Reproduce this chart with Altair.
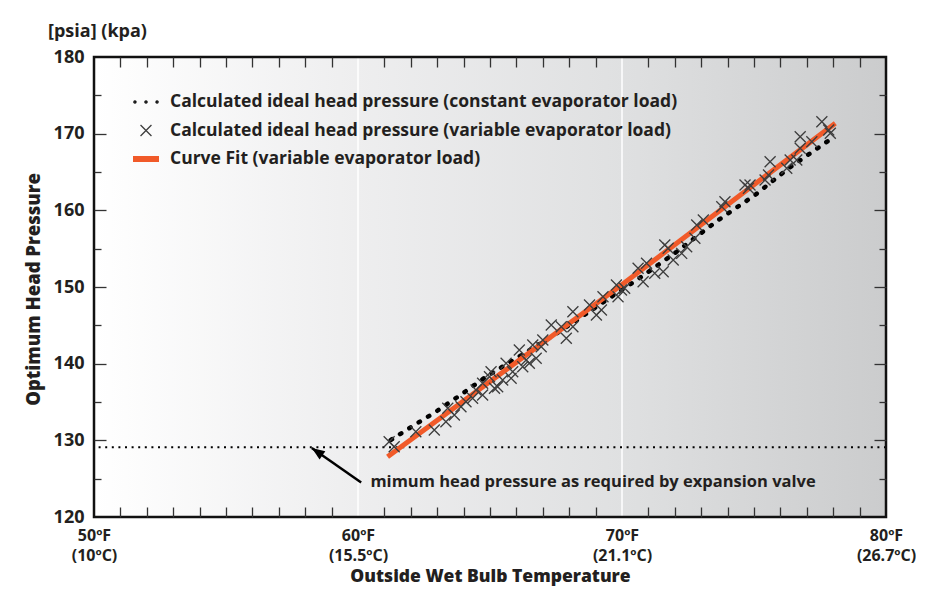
import math
import altair as alt
import pandas as pd

# ---------------- data ----------------
X_DOMAIN = [50, 80]
Y_DOMAIN = [120, 180]

X_LABEL_VALUES = [50, 60, 70, 80]
X_LABELS_F = ["50ºF", "60ºF", "70ºF", "80ºF"]
X_LABELS_C = ["(10ºC)", "(15.5ºC)", "(21.1ºC)", "(26.7ºC)"]
X_MINOR_TICKS = [51, 52, 53, 54, 55, 56, 57, 58, 59,
                 61, 62, 63, 64, 65, 66, 67, 68, 69,
                 71, 72, 73, 74, 75, 76, 77, 78, 79]
Y_LABEL_VALUES = [120, 130, 140, 150, 160, 170, 180]
Y_MAJOR_TICKS = [130, 140, 150, 160, 170]
Y_MINOR_TICKS = [125, 135, 145, 155, 165, 175]
GRID_X = [60, 70]

S1 = "Calculated ideal head pressure (constant evaporator load)"
S2 = "Calculated ideal head pressure (variable evaporator load)"
S3 = "Curve Fit (variable evaporator load)"

const_x = [61.24, 61.94, 62.95, 63.97, 64.85, 65.99, 67.38, 68.39, 69.41,
           70.74, 72.07, 73.65, 75.04, 76.31, 76.94, 77.95]
const_y = [130.04, 131.57, 133.73, 136.13, 138.30, 140.70, 143.61, 145.92,
           148.30, 151.34, 154.60, 158.74, 162.00, 165.48, 166.99, 169.39]

fit_x = [61.12, 69.98, 78.08]
fit_y = [127.86, 150.26, 171.35]

var_x = [61.18, 61.37, 62.19, 62.89, 63.33, 63.40, 63.65, 63.90, 64.09, 64.34,
         64.47, 64.72, 64.72, 64.98, 65.04, 65.17, 65.29, 65.48, 65.61, 65.80,
         65.86, 66.11, 66.24, 66.37, 66.49, 66.62, 66.75, 67.00, 66.94, 67.32,
         67.70, 67.89, 68.14, 68.14, 68.77, 69.03, 69.22, 69.28, 69.79, 69.85,
         69.98, 70.10, 70.61, 70.80, 70.93, 71.24, 71.56, 71.62, 71.75, 71.94,
         72.26, 72.45, 72.76, 72.83, 73.08, 73.78, 73.90, 74.66, 74.85, 74.79,
         75.42, 75.55, 75.61, 76.24, 76.37, 76.62, 76.75, 76.75, 77.19, 77.57,
         77.83, 77.89]
var_y = [129.82, 129.17, 131.13, 131.35, 132.43, 134.18, 133.30, 134.39, 135.04, 135.48,
         136.56, 135.91, 137.44, 138.30, 138.95, 136.79, 137.00, 137.87, 140.05, 138.09,
         138.95, 141.78, 139.60, 140.48, 140.05, 142.43, 140.70, 143.09, 142.21, 145.04,
         144.82, 143.31, 146.78, 144.82, 147.65, 146.35, 147.00, 148.73, 150.26, 148.73,
         149.61, 149.83, 152.44, 150.69, 153.09, 151.79, 152.00, 155.48, 155.05, 153.52,
         154.39, 155.26, 156.35, 158.09, 158.74, 160.47, 161.12, 163.30, 163.30, 162.87,
         163.95, 164.61, 166.34, 165.48, 166.56, 166.56, 169.60, 168.09, 168.95, 171.56,
         170.48, 170.05]

MIN_PRESSURE = [129.1]

ANN_TEXT = "mimum head pressure as required by expansion valve"
ANN_POS = [60.47, 123.85]
ARROW_TAIL = [60.12, 124.5]
ARROW_TIP = [58.25, 129.0]

# ---------------- style ----------------
W, H = 792, 460
FONT = "Open Sans"
TITLE_FONT = "Open Sans"
TXT = "#231f20"
ORANGE = "#f15a29"
CROSS = "#3d3d3d"
TICK_COLOR = "#333333"

xs = alt.Scale(domain=X_DOMAIN, nice=False, zero=False)
ys = alt.Scale(domain=Y_DOMAIN, nice=False, zero=False)

# legend / marker symbols (custom paths)
def dot(cx, r=0.08):
    return f"M{cx - r},0a{r},{r} 0 1,0 {2 * r},0a{r},{r} 0 1,0 {-2 * r},0Z"

DOTS_PATH = " ".join(dot(c) for c in (-0.85, 0.0, 0.85))
CROSS_PATH = "M-0.42,-0.42L0.42,0.42M-0.42,0.42L0.42,-0.42"
BAR_PATH = " ".join(f"M-1,{v}H1" for v in (-0.18, -0.09, 0, 0.09, 0.18))

# x-axis label expression
parts = []
for v, f, c in zip(X_LABEL_VALUES, X_LABELS_F, X_LABELS_C):
    parts.append(f"datum.value == {v} ? ['{f}', '{c}'] : ")
label_expr = "".join(parts) + "''"

tick_kw = dict(labels=False, domain=False, grid=False, ticks=True,
               tickColor=TICK_COLOR, tickWidth=1.3, zindex=1, title=None)

ax_x_labels = alt.Axis(
    orient="bottom", values=X_LABEL_VALUES, labelExpr=label_expr,
    ticks=False, tickSize=0, domain=False, grid=False,
    labelPadding=23, labelBaseline="alphabetic", labelLineHeight=20,
    labelFont=FONT, labelFontSize=16, labelFontWeight="bold", labelColor=TXT,
    labelOverlap=False, labelFlush=False,
    title="Outside Wet Bulb Temperature", titleFont=TITLE_FONT, titleFontSize=17.5,
    titleFontWeight=800, titleColor=TXT, titleX=396, titleY=64,
    titleBaseline="alphabetic", titleAlign="center",
)
ax_y_labels = alt.Axis(
    orient="left", values=Y_LABEL_VALUES, ticks=False, tickSize=0,
    domain=False, grid=False, labelPadding=10,
    labelFont=FONT, labelFontSize=18, labelFontWeight="bold", labelColor=TXT,
    title="Optimum Head Pressure", titleFont=TITLE_FONT, titleFontSize=18.5,
    titleFontWeight=800, titleColor=TXT, titleX=-61, titleY=232,
    titleAngle=270, titleAlign="center", titleBaseline="middle",
)
ax_x_bottom_ticks = alt.Axis(orient="top", offset=-H, values=X_MINOR_TICKS, tickSize=10, **tick_kw)
ax_x_top_ticks = alt.Axis(orient="bottom", offset=-H, values=X_MINOR_TICKS, tickSize=10, **tick_kw)
ax_y_left_major = alt.Axis(orient="right", offset=-W, values=Y_MAJOR_TICKS, tickSize=12, **tick_kw)
ax_y_left_minor = alt.Axis(orient="right", offset=-W, values=Y_MINOR_TICKS, tickSize=7, **tick_kw)
ax_y_right_major = alt.Axis(orient="left", offset=-W, values=Y_MAJOR_TICKS, tickSize=12, **tick_kw)
ax_y_right_minor = alt.Axis(orient="left", offset=-W, values=Y_MINOR_TICKS, tickSize=7, **tick_kw)

# ---------------- layers ----------------
frame_df = pd.DataFrame({"x0": [X_DOMAIN[0]], "x1": [X_DOMAIN[1]],
                         "y0": [Y_DOMAIN[0]], "y1": [Y_DOMAIN[1]]})

gradient = alt.LinearGradient(
    gradient="linear", x1=0, x2=1, y1=0, y2=0,
    stops=[alt.GradientStop(offset=0, color="#ffffff"),
           alt.GradientStop(offset=0.33, color="#eeeeef"),
           alt.GradientStop(offset=0.67, color="#dfe0e1"),
           alt.GradientStop(offset=1, color="#cbcccd")],
)

bg = alt.Chart(frame_df).mark_rect(fill=gradient).encode(
    x=alt.X("x0:Q", scale=xs, axis=ax_x_labels), x2="x1:Q",
    y=alt.Y("y0:Q", scale=ys, axis=ax_y_labels), y2="y1:Q",
)

grid = alt.Chart(pd.DataFrame({"x": GRID_X})).mark_rule(color="white", strokeWidth=1.5).encode(
    x=alt.X("x:Q", scale=xs, axis=ax_x_bottom_ticks)
)

minline = alt.Chart(pd.DataFrame({"y": MIN_PRESSURE})).mark_rule(
    color="black", strokeWidth=2, strokeDash=[2, 4.6]
).encode(y=alt.Y("y:Q", scale=ys, axis=ax_y_left_major))

const_line = alt.Chart(pd.DataFrame({"x": const_x, "y": const_y})).mark_line(
    color="black", strokeWidth=4.5, strokeDash=[1.5, 9.5], strokeCap="round"
).encode(
    x=alt.X("x:Q", scale=xs, axis=ax_x_top_ticks),
    y=alt.Y("y:Q", scale=ys, axis=ax_y_left_minor),
)

fit_line = alt.Chart(pd.DataFrame({"x": fit_x, "y": fit_y})).mark_line(
    color=ORANGE, strokeWidth=5
).encode(
    x=alt.X("x:Q", scale=xs, axis=None),
    y=alt.Y("y:Q", scale=ys, axis=ax_y_right_major),
)

legend = alt.Legend(
    title=None, orient="none", legendX=38, legendY=31, padding=0,
    symbolSize=676, symbolStrokeWidth=1.3, symbolOpacity=1,
    labelFont=FONT, labelFontSize=17.5, labelFontWeight="bold", labelColor=TXT,
    labelOffset=10, labelLimit=0, rowPadding=5.5,
)
series_domain = [S1, S2, S3]
crosses = alt.Chart(pd.DataFrame({"x": var_x, "y": var_y, "series": [S2] * len(var_x)})).mark_point(
    filled=False, size=686, strokeWidth=1.3, opacity=1
).encode(
    x=alt.X("x:Q", scale=xs, axis=None),
    y=alt.Y("y:Q", scale=ys, axis=ax_y_right_minor),
    color=alt.Color("series:N", scale=alt.Scale(domain=series_domain,
                                                range=["#000000", CROSS, ORANGE]),
                    legend=legend),
    shape=alt.Shape("series:N", scale=alt.Scale(domain=series_domain,
                                                range=[DOTS_PATH, CROSS_PATH, BAR_PATH]),
                    legend=legend),
)

arrow_df = pd.DataFrame({"x": [ARROW_TAIL[0]], "y": [ARROW_TAIL[1]],
                         "x2": [ARROW_TIP[0]], "y2": [ARROW_TIP[1]]})
shaft = alt.Chart(arrow_df).mark_rule(color="black", strokeWidth=2.5).encode(
    x=alt.X("x:Q", scale=xs, axis=None), y=alt.Y("y:Q", scale=ys, axis=None),
    x2="x2:Q", y2="y2:Q",
)
dxp = (ARROW_TIP[0] - ARROW_TAIL[0]) * W / (X_DOMAIN[1] - X_DOMAIN[0])
dyp = -(ARROW_TIP[1] - ARROW_TAIL[1]) * H / (Y_DOMAIN[1] - Y_DOMAIN[0])
head_angle = math.degrees(math.atan2(dxp, -dyp)) % 360
head = alt.Chart(pd.DataFrame({"x": [ARROW_TIP[0]], "y": [ARROW_TIP[1]]})).mark_point(
    shape="M0,0L0.5,1.3L-0.5,1.3Z", filled=True, size=400, color="black",
    opacity=1, angle=head_angle
).encode(x=alt.X("x:Q", scale=xs, axis=None), y=alt.Y("y:Q", scale=ys, axis=None))

ann = alt.Chart(pd.DataFrame({"x": [ANN_POS[0]], "y": [ANN_POS[1]], "t": [ANN_TEXT]})).mark_text(
    align="left", baseline="alphabetic", font=FONT, fontSize=16.5, fontWeight="bold", color=TXT
).encode(x=alt.X("x:Q", scale=xs, axis=None), y=alt.Y("y:Q", scale=ys, axis=None), text="t:N")

border = alt.Chart(frame_df).mark_rect(fillOpacity=0, stroke="#111111", strokeWidth=2.5).encode(
    x=alt.X("x0:Q", scale=xs, axis=None), x2="x1:Q",
    y=alt.Y("y0:Q", scale=ys, axis=None), y2="y1:Q",
)

chart = alt.layer(
    bg, grid, minline, const_line, fit_line, crosses, shaft, head, ann, border
).resolve_axis(x="independent", y="independent").properties(
    width=W, height=H,
    autosize=alt.AutoSizeParams(type="none"),
    padding={"left": 86, "top": 49, "right": 30, "bottom": 71},
    title=alt.TitleParams(
        "[psia] (kpa)", anchor="start", frame="group", dx=-46, offset=7,
        font=FONT, fontSize=18, fontWeight="bold", color=TXT,
    ),
).configure_view(stroke="transparent").configure(background="white")

chart.save("out.html", embed_options={"renderer": "svg", "actions": False})
